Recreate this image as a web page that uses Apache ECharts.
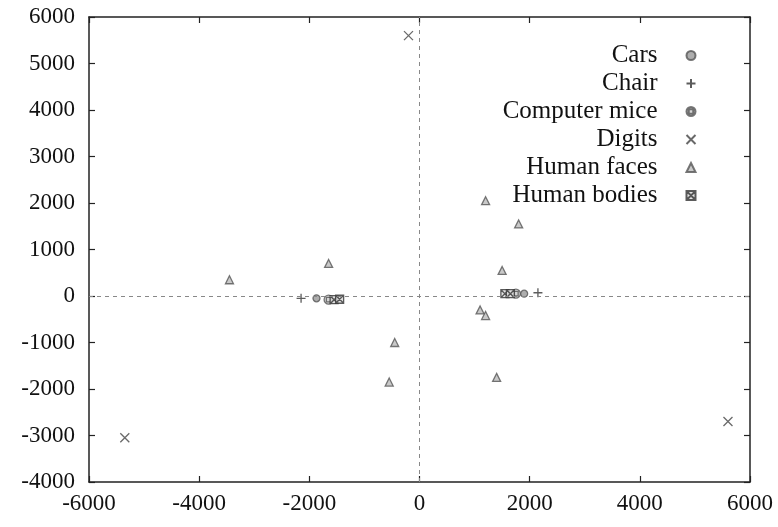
<!DOCTYPE html>
<html>
<head>
<meta charset="utf-8">
<script src="https://cdn.jsdelivr.net/npm/echarts@6/dist/echarts.min.js"></script>
<style>html,body{margin:0;padding:0;background:#fff}#c{width:778px;height:527px}</style>
</head>
<body>
<div id="c"></div>
<script>
var seriesNames = ["Cars", "Chair", "Computer mice", "Digits", "Human faces", "Human bodies"];
var cars = [[-1870, -50], [1900, 50]];
var chair = [[-2150, -50], [2150, 70]];
var computerMice = [[-1650, -80], [1750, 50]];
var digits = [[-200, 5600], [-5350, -3050], [5600, -2700]];
var humanFaces = [[-3450, 350], [-1650, 700], [1200, 2050], [1800, 1550], [1500, 550], [-450, -1000], [-550, -1850], [1400, -1750], [1100, -300], [1200, -420]];
var humanBodies = [[-1550, -80], [-1450, -70], [1550, 50], [1650, 50]];
var xTicks = [-6000, -4000, -2000, 0, 2000, 4000, 6000];
var yTicks = [-4000, -3000, -2000, -1000, 0, 1000, 2000, 3000, 4000, 5000, 6000];

var font = "Liberation Serif";
var ink = "#222";
function plain(v) { return String(v); }
function axisCommon(extra) {
  var o = {
    type: "value",
    axisLine: { show: true, onZero: false, lineStyle: { color: ink, width: 1.5 } },
    axisTick: { show: true, inside: true, length: 6, lineStyle: { color: ink, width: 1.2 } },
    splitLine: { show: false },
    axisLabel: { color: "#111", fontFamily: font, fontSize: 23, formatter: plain }
  };
  for (var k in extra) o[k] = extra[k];
  return o;
}
function sty(color, fill) {
  return { color: fill || "none", borderColor: color, borderWidth: 1.3 };
}
var chart = echarts.init(document.getElementById("c"), null, { renderer: "canvas" });
var datasets = [cars, chair, computerMice, digits, humanFaces, humanBodies];
var symbols = [
  "circle",
  "path://M0,4L8,4M4,0L4,8",
  "path://M4,0A4,4,0,1,1,3.99,0ZM2,2L6,2L6,6L2,6Z",
  "path://M0,0L8,8M8,0L0,8",
  "triangle",
  "path://M0,0L8,0L8,8L0,8ZM0,0L8,8M8,0L0,8"
];
var sizes = [7, 9, 9, 9, 8, 8];
var itemStyles = [
  sty("#555", "#999"),
  sty("#333"),
  sty("#555", "#ccc"),
  sty("#444"),
  sty("#555", "#bbb"),
  sty("#333", "#ddd")
];
var series = seriesNames.map(function (n, i) {
  var s = {
    name: n,
    type: "scatter",
    data: datasets[i],
    symbol: symbols[i],
    symbolSize: sizes[i],
    itemStyle: itemStyles[i],
    xAxisIndex: 0,
    yAxisIndex: 0,
    z: 3
  };
  if (i === 0) {
    s.markLine = {
      silent: true,
      symbol: ["none", "none"],
      label: { show: false },
      lineStyle: { type: [4, 4], color: "#888", width: 1 },
      data: [{ xAxis: 0 }, { yAxis: 0 }],
      animation: false
    };
  }
  return s;
});
chart.setOption({
  animation: false,
  backgroundColor: "#fff",
  grid: { left: 89, right: 28, top: 17, bottom: 45 },
  xAxis: [
    axisCommon({ min: -6000, max: 6000, interval: 2000, position: "bottom",
      axisLabel: { color: "#111", fontFamily: font, fontSize: 23, margin: 10, formatter: plain } }),
    axisCommon({ min: -6000, max: 6000, interval: 2000, position: "top",
      axisLabel: { show: false } })
  ],
  yAxis: [
    axisCommon({ min: -4000, max: 6000, interval: 1000, position: "left",
      axisLabel: { color: "#111", fontFamily: font, fontSize: 23, margin: 14, formatter: plain } }),
    axisCommon({ min: -4000, max: 6000, interval: 1000, position: "right",
      axisLabel: { show: false } })
  ],
  legend: {
    orient: "vertical",
    right: 75,
    top: 38,
    align: "right",
    itemWidth: 9,
    itemHeight: 9,
    itemGap: 3,
    textStyle: { fontFamily: font, fontSize: 25, color: "#111", lineHeight: 25, padding: [0, 24, 0, 0] },
    data: seriesNames
  },
  series: series
});
</script>
</body>
</html>
